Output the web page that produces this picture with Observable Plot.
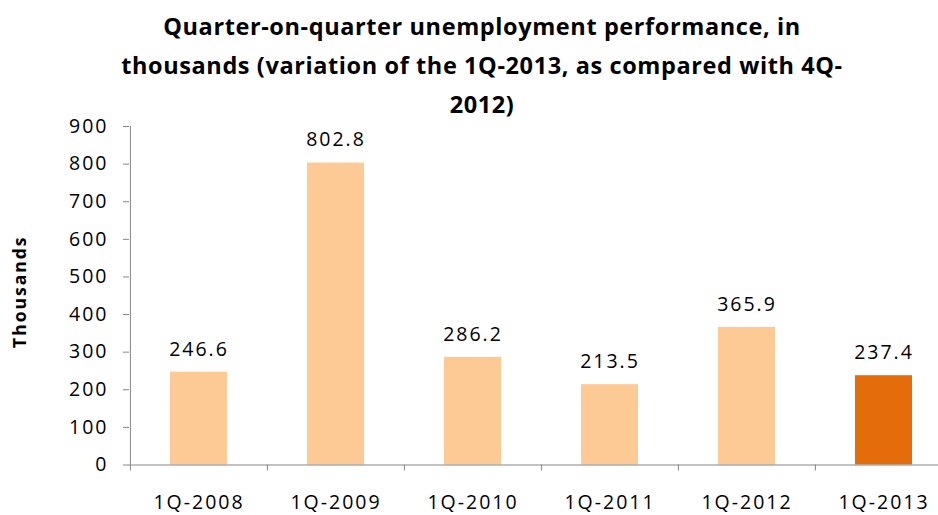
<!DOCTYPE html>
<html>
<head>
<meta charset="utf-8">
<script src="https://cdn.jsdelivr.net/npm/d3@7"></script>
<script src="https://cdn.jsdelivr.net/npm/@observablehq/plot@0.6"></script>
<style>
  html, body { margin: 0; padding: 0; background: white; overflow: hidden; }
  #wrap { width: 938px; height: 515px; position: relative; overflow: hidden; }
  #title {
    box-sizing: border-box; width: 938px; height: 120px; padding: 7px 0 0 26px;
    text-align: center; font-family: "Open Sans", sans-serif; font-weight: bold;
    font-size: 23.5px; line-height: 39px; color: #000; letter-spacing: 0.6px;
  }
</style>
</head>
<body>
<div id="wrap">
  <div id="title">Quarter-on-quarter unemployment performance, in<br>thousands (variation of the 1Q-2013, as compared with 4Q-<br>2012)</div>
  <div id="chart"></div>
</div>
<script>
const categories = ["1Q-2008", "1Q-2009", "1Q-2010", "1Q-2011", "1Q-2012", "1Q-2013"];
const values = [246.6, 802.8, 286.2, 213.5, 365.9, 237.4];
const highlighted = "1Q-2013";
const yTicks = [0, 100, 200, 300, 400, 500, 600, 700, 800, 900];
const yLabel = "Thousands";

const data = categories.map((c, i) => ({category: c, value: values[i]}));

const W = 938, H = 395;
const mTop = 6, mBottom = 50.5, mLeft = 129;
const xRange = [129, 952];
const step = (xRange[1] - xRange[0]) / categories.length;
const plotH = H - mTop - mBottom;
const gray = "#868686";
const light = "#FDCA96";
const dark = "#E46C0A";

const chart = Plot.plot({
  width: W,
  height: H,
  marginTop: mTop,
  marginBottom: mBottom,
  marginLeft: mLeft,
  marginRight: 0,
  style: {fontFamily: "'Open Sans', sans-serif", fontSize: "19.5px", letterSpacing: "2px", color: "black", background: "white", overflow: "visible"},
  x: {domain: categories, range: xRange, paddingInner: 0.585, paddingOuter: 0.2925},
  y: {domain: [0, 900]},
  marks: [
    Plot.barY(data, {x: "category", y: "value", fill: d => d.category === highlighted ? dark : light}),
    Plot.ruleY([0], {stroke: gray, strokeWidth: 1}),
    Plot.ruleX([categories[0]], {x: d => d, y1: 0, y2: 900, dx: -step / 2, stroke: gray}),
    Plot.ruleX(categories, {x: d => d, dx: -step / 2, insetTop: plotH, insetBottom: -6, stroke: gray}),
    Plot.axisY(yTicks, {tickSize: 6, tickPadding: 15, stroke: gray, fill: "black", tickFormat: d => String(d), label: null}),
    Plot.axisX({tickSize: 0, tickPadding: 30, fill: "black", label: null}),
    Plot.text(data, {x: "category", y: "value", text: d => d.value.toFixed(1), dy: -23, fill: "black"}),
    Plot.text([yLabel], {text: d => d, frameAnchor: "left", textAnchor: "middle", rotate: -90, dx: -109, dy: -4, fontWeight: "bold", fontSize: 17.5, letterSpacing: "0.8px", fill: "black"})
  ]
});
document.getElementById("chart").appendChild(chart);
</script>
</body>
</html>
